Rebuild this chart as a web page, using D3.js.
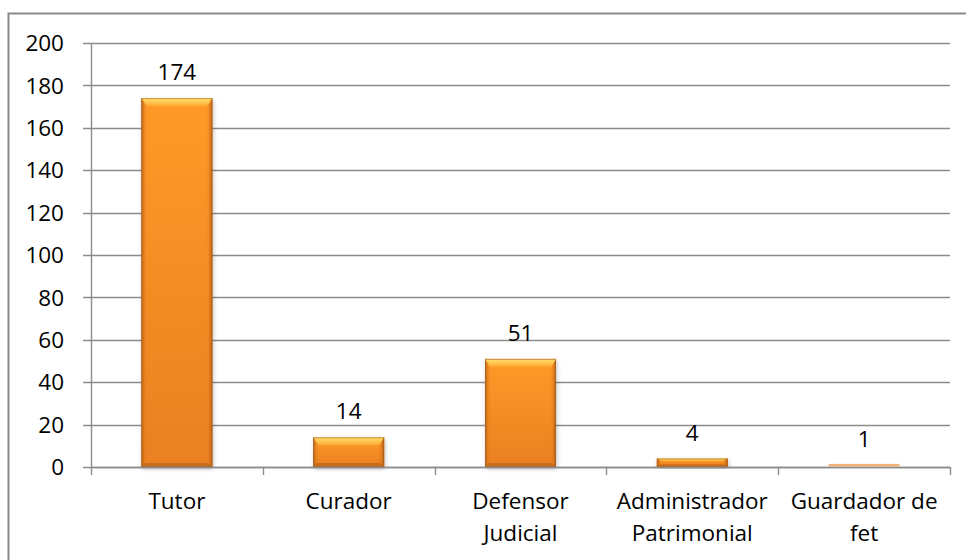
<!DOCTYPE html>
<html>
<head>
<meta charset="utf-8">
<script src="https://cdn.jsdelivr.net/npm/d3@7/dist/d3.min.js"></script>
<style>
  html, body { margin: 0; padding: 0; background: #fff; }
  svg { display: block; }
  text { font-family: "Open Sans", "Noto Sans", sans-serif; fill: #000; }
</style>
</head>
<body>
<svg id="chart" width="966" height="560"></svg>
<script>
const categories = [["Tutor"], ["Curador"], ["Defensor", "Judicial"], ["Administrador", "Patrimonial"], ["Guardador de", "fet"]];
const values = [174, 14, 51, 4, 1];
const yTicks = [0, 20, 40, 60, 80, 100, 120, 140, 160, 180, 200];

(function () {
const svg = d3.select("#chart");
const pLeft = 91, pRight = 950, pTop = 43, pBottom = 467;
const fs = 22.5;

svg.append("rect").attr("x", 8.5).attr("y", 13.5).attr("width", 970).attr("height", 600)
  .attr("fill", "#fff").attr("stroke", "#8a8a8a").attr("stroke-width", 2);

const x = d3.scaleBand().domain(d3.range(categories.length)).range([pLeft, pRight])
  .paddingInner(0.587).paddingOuter(0.2935);
const y = d3.scaleLinear().domain([0, 200]).range([pBottom, pTop]);

const defs = svg.append("defs");
const gMain = defs.append("linearGradient").attr("id", "gMain").attr("x1", 0).attr("y1", 0).attr("x2", 0).attr("y2", 1);
gMain.append("stop").attr("offset", "0%").attr("stop-color", "#ff9a28");
gMain.append("stop").attr("offset", "100%").attr("stop-color", "#ea8020");
const gSide = defs.append("linearGradient").attr("id", "gSide").attr("x1", 0).attr("y1", 0).attr("x2", 1).attr("y2", 0);
gSide.append("stop").attr("offset", "0%").attr("stop-color", "#b5601a").attr("stop-opacity", 0.95);
gSide.append("stop").attr("offset", "5%").attr("stop-color", "#d9761e").attr("stop-opacity", 0.35);
gSide.append("stop").attr("offset", "9%").attr("stop-color", "#f08a24").attr("stop-opacity", 0.0);
gSide.append("stop").attr("offset", "91%").attr("stop-color", "#f08a24").attr("stop-opacity", 0.0);
gSide.append("stop").attr("offset", "95%").attr("stop-color", "#d9761e").attr("stop-opacity", 0.35);
gSide.append("stop").attr("offset", "100%").attr("stop-color", "#a85816").attr("stop-opacity", 0.95);
const gTop = defs.append("linearGradient").attr("id", "gTop").attr("x1", 0).attr("y1", 0).attr("x2", 0).attr("y2", 1);
gTop.append("stop").attr("offset", "0%").attr("stop-color", "#ffe070");
gTop.append("stop").attr("offset", "60%").attr("stop-color", "#ffc24a");
gTop.append("stop").attr("offset", "100%").attr("stop-color", "#ffa530");
const shadow = defs.append("filter").attr("id", "shadow").attr("x", "-20%").attr("y", "-20%").attr("width", "140%").attr("height", "140%");
shadow.append("feDropShadow").attr("dx", 1).attr("dy", 2).attr("stdDeviation", 2).attr("flood-color", "#000").attr("flood-opacity", 0.25);

svg.append("g").selectAll("line").data(yTicks).join("line")
  .attr("x1", pLeft - 8).attr("x2", pRight)
  .attr("y1", d => Math.round(y(d)) + 0.5).attr("y2", d => Math.round(y(d)) + 0.5)
  .attr("stroke", "#8c8c8c").attr("stroke-width", 1.4);

svg.append("line").attr("x1", pLeft + 0.5).attr("x2", pLeft + 0.5).attr("y1", pTop).attr("y2", pBottom)
  .attr("stroke", "#8c8c8c").attr("stroke-width", 1.4);

svg.append("g").selectAll("text").data(yTicks).join("text")
  .attr("x", 64).attr("y", d => y(d)).attr("dy", "0.36em")
  .attr("text-anchor", "end").attr("font-size", fs).text(d => d);

const bounds = d3.range(categories.length + 1).map(i => pLeft + i * x.step());
svg.append("g").selectAll("line").data(bounds).join("line")
  .attr("x1", d => Math.round(d) + 0.5).attr("x2", d => Math.round(d) + 0.5)
  .attr("y1", pBottom).attr("y2", pBottom + 8)
  .attr("stroke", "#8c8c8c").attr("stroke-width", 1.4);

const bars = svg.append("g").selectAll("g").data(values).join("g");
bars.each(function(v, i) {
  const g = d3.select(this);
  const x0 = x(i), w = x.bandwidth();
  const y0 = y(v), h = pBottom - y0;
  if (h < 4) {
    g.append("rect").attr("x", x0).attr("y", y0 - 1).attr("width", w).attr("height", Math.max(h, 2.5))
      .attr("fill", "#f4b074");
    return;
  }
  const b = Math.min(8, h / 3);
  g.append("rect").attr("x", x0).attr("y", y0).attr("width", w).attr("height", h)
    .attr("fill", "url(#gMain)").attr("filter", "url(#shadow)");
  g.append("rect").attr("x", x0).attr("y", y0).attr("width", w).attr("height", h)
    .attr("fill", "url(#gSide)");
  g.append("path").attr("d", `M${x0},${y0} L${x0 + w},${y0} L${x0 + w - 5},${y0 + b} L${x0 + 5},${y0 + b} Z`)
    .attr("fill", "url(#gTop)");
  const bb = Math.min(4, b);
  g.append("path").attr("d", `M${x0},${pBottom} L${x0 + w},${pBottom} L${x0 + w - 4},${pBottom - bb} L${x0 + 4},${pBottom - bb} Z`)
    .attr("fill", "#b8621a").attr("opacity", 0.7);
  g.append("rect").attr("x", x0 + 0.5).attr("y", y0 + 0.5).attr("width", w - 1).attr("height", h - 1)
    .attr("fill", "none").attr("stroke", "#a9601e").attr("stroke-opacity", 0.6);
});

svg.append("line").attr("x1", pLeft).attr("x2", pRight)
  .attr("y1", Math.round(y(0)) + 0.5).attr("y2", Math.round(y(0)) + 0.5)
  .attr("stroke", "#8c8c8c").attr("stroke-width", 1.4);

svg.append("g").selectAll("text").data(values).join("text")
  .attr("x", (d, i) => x(i) + x.bandwidth() / 2)
  .attr("y", d => y(d) - 18)
  .attr("text-anchor", "middle").attr("font-size", fs).text(d => d);

const cat = svg.append("g").selectAll("text").data(categories).join("text")
  .attr("x", (d, i) => x(i) + x.bandwidth() / 2)
  .attr("y", 509).attr("text-anchor", "middle").attr("font-size", fs);
cat.selectAll("tspan").data(d => d).join("tspan")
  .attr("x", function() { return d3.select(this.parentNode).attr("x"); })
  .attr("dy", (d, j) => j === 0 ? 0 : 32).text(d => d);
})();
</script>
</body>
</html>
